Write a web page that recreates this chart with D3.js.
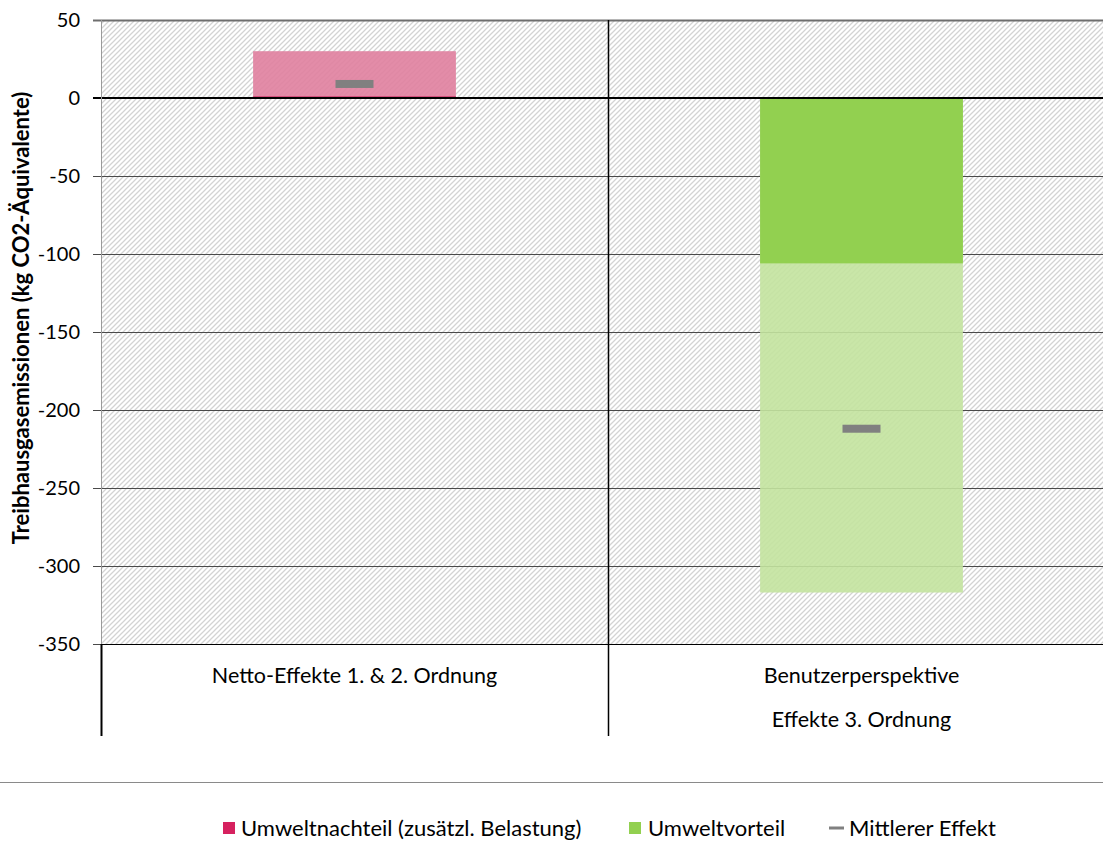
<!DOCTYPE html>
<html>
<head>
<meta charset="utf-8">
<script src="https://cdn.jsdelivr.net/npm/d3@7"></script>
<style>
  body { margin: 0; background: #fff; }
  text { font-family: Lato, "Open Sans", sans-serif; fill: #000; }
</style>
</head>
<body>
<div id="chart"></div>
<script>
// chart values
var categories = ["Netto-Effekte 1. & 2. Ordnung", "Benutzerperspektive|Effekte 3. Ordnung"];
var nachteilRange = [30, 0];     // light pink range
var nachteilSolid = [1, 0];      // dark pink strip
var vorteilSolid = [0, -106];    // dark green
var vorteilRange = [0, -317];    // light green range
var mittlererEffekt = [9, -212];
var yTicks = [50, 0, -50, -100, -150, -200, -250, -300, -350];
var legendItems = ["Umweltnachteil (zusätzl. Belastung)", "Umweltvorteil", "Mittlerer Effekt"];

var svgWidth = 1103;
var svgHeight = 841;

var margin = { top: 20, left: 101 };
var plotBottom = 644;
var plotRight = 1115;

var svg = d3.select("#chart")
  .append("svg")
  .attr("width", svgWidth)
  .attr("height", svgHeight);

// hatch pattern for the plot background
var defs = svg.append("defs");
var pat = defs.append("pattern")
  .attr("id", "hatch")
  .attr("patternUnits", "userSpaceOnUse")
  .attr("width", 5)
  .attr("height", 5);
pat.append("path")
  .attr("d", "M-1,1 l2,-2 M0,5 l5,-5 M4,6 l2,-2")
  .attr("stroke", "#d3d3d3")
  .attr("stroke-width", 1.3);

var y = d3.scaleLinear()
  .domain([-350, 50])
  .range([plotBottom, margin.top]);

var x = d3.scaleBand()
  .domain(categories)
  .range([margin.left, plotRight])
  .paddingInner(0)
  .paddingOuter(0);

var barW = x.bandwidth() * 0.4;
function barX(i) { return x(categories[i]) + (x.bandwidth() - barW) / 2; }

// background
svg.append("rect")
  .attr("x", margin.left)
  .attr("y", margin.top)
  .attr("width", plotRight - margin.left)
  .attr("height", plotBottom - margin.top)
  .attr("fill", "url(#hatch)");

// gridlines
svg.append("g")
  .selectAll("line")
  .data(yTicks.filter(d => d !== 0))
  .enter()
  .append("line")
  .attr("x1", margin.left - 8)
  .attr("x2", plotRight)
  .attr("y1", d => Math.round(y(d)) + 0.5)
  .attr("y2", d => Math.round(y(d)) + 0.5)
  .attr("stroke", d => (d === 50 ? "#6e6e6e" : "#4a4a4a"))
  .attr("stroke-width", d => (d === 50 ? 2 : 1.2));

// bars
function drawBars(values, color, opacity) {
  svg.append("g")
    .selectAll("rect")
    .data(values)
    .enter()
    .append("rect")
    .attr("x", (d, i) => barX(i))
    .attr("width", barW)
    .attr("y", d => y(Math.max(0, d)))
    .attr("height", d => Math.abs(y(d) - y(0)))
    .attr("fill", color)
    .attr("fill-opacity", opacity);
}
drawBars(nachteilRange, "#e07f9f", 0.9);
drawBars(nachteilSolid, "#c8235a", 1);
drawBars(vorteilRange, "#c3e39f", 0.9);
drawBars(vorteilSolid, "#92d050", 1);

// zero line
svg.append("line")
  .attr("x1", margin.left - 8)
  .attr("x2", plotRight)
  .attr("y1", y(0))
  .attr("y2", y(0))
  .attr("stroke", "#000")
  .attr("stroke-width", 2);

// mean markers
svg.append("g")
  .selectAll("rect")
  .data(mittlererEffekt)
  .enter()
  .append("rect")
  .attr("x", (d, i) => x(categories[i]) + x.bandwidth() / 2 - 19)
  .attr("width", 38)
  .attr("y", d => y(d) - 4)
  .attr("height", 8)
  .attr("fill", "#808080");

// left edge and category divider
svg.append("line")
  .attr("x1", margin.left + 0.5).attr("x2", margin.left + 0.5)
  .attr("y1", margin.top).attr("y2", plotBottom)
  .attr("stroke", "#9a9a9a").attr("stroke-width", 1);
svg.append("line")
  .attr("x1", margin.left + 0.5).attr("x2", margin.left + 0.5)
  .attr("y1", plotBottom).attr("y2", 736)
  .attr("stroke", "#000").attr("stroke-width", 2);
svg.append("line")
  .attr("x1", x(categories[1]) + 0.5).attr("x2", x(categories[1]) + 0.5)
  .attr("y1", margin.top).attr("y2", 736)
  .attr("stroke", "#000").attr("stroke-width", 1.5);
svg.append("line")
  .attr("x1", margin.left).attr("x2", plotRight)
  .attr("y1", plotBottom + 0.5).attr("y2", plotBottom + 0.5)
  .attr("stroke", "#000").attr("stroke-width", 1);

// y tick labels
svg.append("g")
  .selectAll("text")
  .data(yTicks)
  .enter()
  .append("text")
  .attr("x", 80)
  .attr("y", d => y(d))
  .attr("dy", "0.35em")
  .attr("text-anchor", "end")
  .attr("font-size", "20px")
  .text(d => d);

// y axis title
svg.append("text")
  .attr("transform", "translate(29," + ((88 + 548) / 2) + ") rotate(-90)")
  .attr("text-anchor", "middle")
  .attr("font-size", "22px")
  .attr("font-weight", "bold")
  .text("Treibhausgasemissionen (kg CO2-Äquivalente)");

// category labels
categories.forEach(function(c) {
  var lines = c.split("|");
  var cx = x(c) + x.bandwidth() / 2;
  lines.forEach(function(l, j) {
    svg.append("text")
      .attr("x", cx)
      .attr("y", 675 + j * 44)
      .attr("dy", "0.35em")
      .attr("text-anchor", "middle")
      .attr("font-size", "21.5px")
      .text(l);
  });
});

// separator line above legend
svg.append("line")
  .attr("x1", 0).attr("x2", svgWidth)
  .attr("y1", 782.5).attr("y2", 782.5)
  .attr("stroke", "#8a8a8a").attr("stroke-width", 1);

// legend
var legend = svg.append("g").attr("transform", "translate(0,828)");
legend.append("rect").attr("x", 223).attr("y", -6).attr("width", 12).attr("height", 12).attr("fill", "#d6215f");
legend.append("rect").attr("x", 629).attr("y", -6).attr("width", 12).attr("height", 12).attr("fill", "#92d050");
legend.append("rect").attr("x", 829).attr("y", -1.5).attr("width", 15).attr("height", 3).attr("fill", "#808080");
[[241, legendItems[0]], [648, legendItems[1]], [849, legendItems[2]]].forEach(function(p) {
  legend.append("text")
    .attr("x", p[0])
    .attr("y", 0)
    .attr("dy", "0.35em")
    .attr("font-size", "22px")
    .text(p[1]);
});
</script>
</body>
</html>
